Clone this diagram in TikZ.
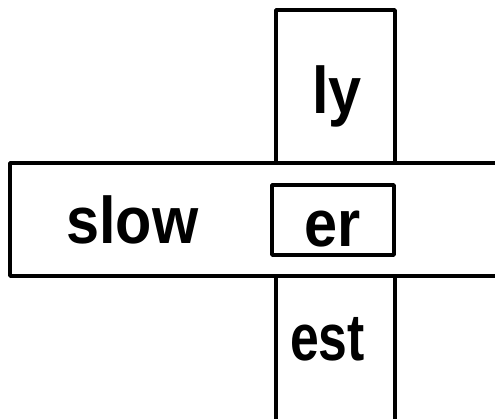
\documentclass[tikz,border=0pt]{standalone}
\usepackage{fontspec}
\setmainfont{Liberation Sans}
\begin{document}
\begin{tikzpicture}[x=1pt,y=-1pt,
  strip/.style={line width=3.4pt,line cap=round,line join=round},
  word/.style={inner sep=0pt,anchor=base west,xscale=0.9,font=\fontsize{66}{72}\selectfont\bfseries}]
\useasboundingbox (0,0) rectangle (495,418);
% horizontal strip (open to the right)
\draw[strip] (497,163) -- (10,163) -- (10,276) -- (497,276);
% vertical strip, upper part
\draw[strip] (276,163) -- (276,10) -- (395,10) -- (395,163);
% vertical strip, lower part (open at bottom)
\draw[strip] (276,276) -- (276,420);
\draw[strip] (395,276) -- (395,420);
% window
\draw[strip] (272,185) rectangle (394,255);
\node[word] (ly) at (312,113) {ly};
\node[word] (slow) at (66,243) {slow};
\node[word] (er) at (304,246) {er};
\node[word,xscale=0.87] (est) at (290,360) {est};
\end{tikzpicture}
\end{document}
